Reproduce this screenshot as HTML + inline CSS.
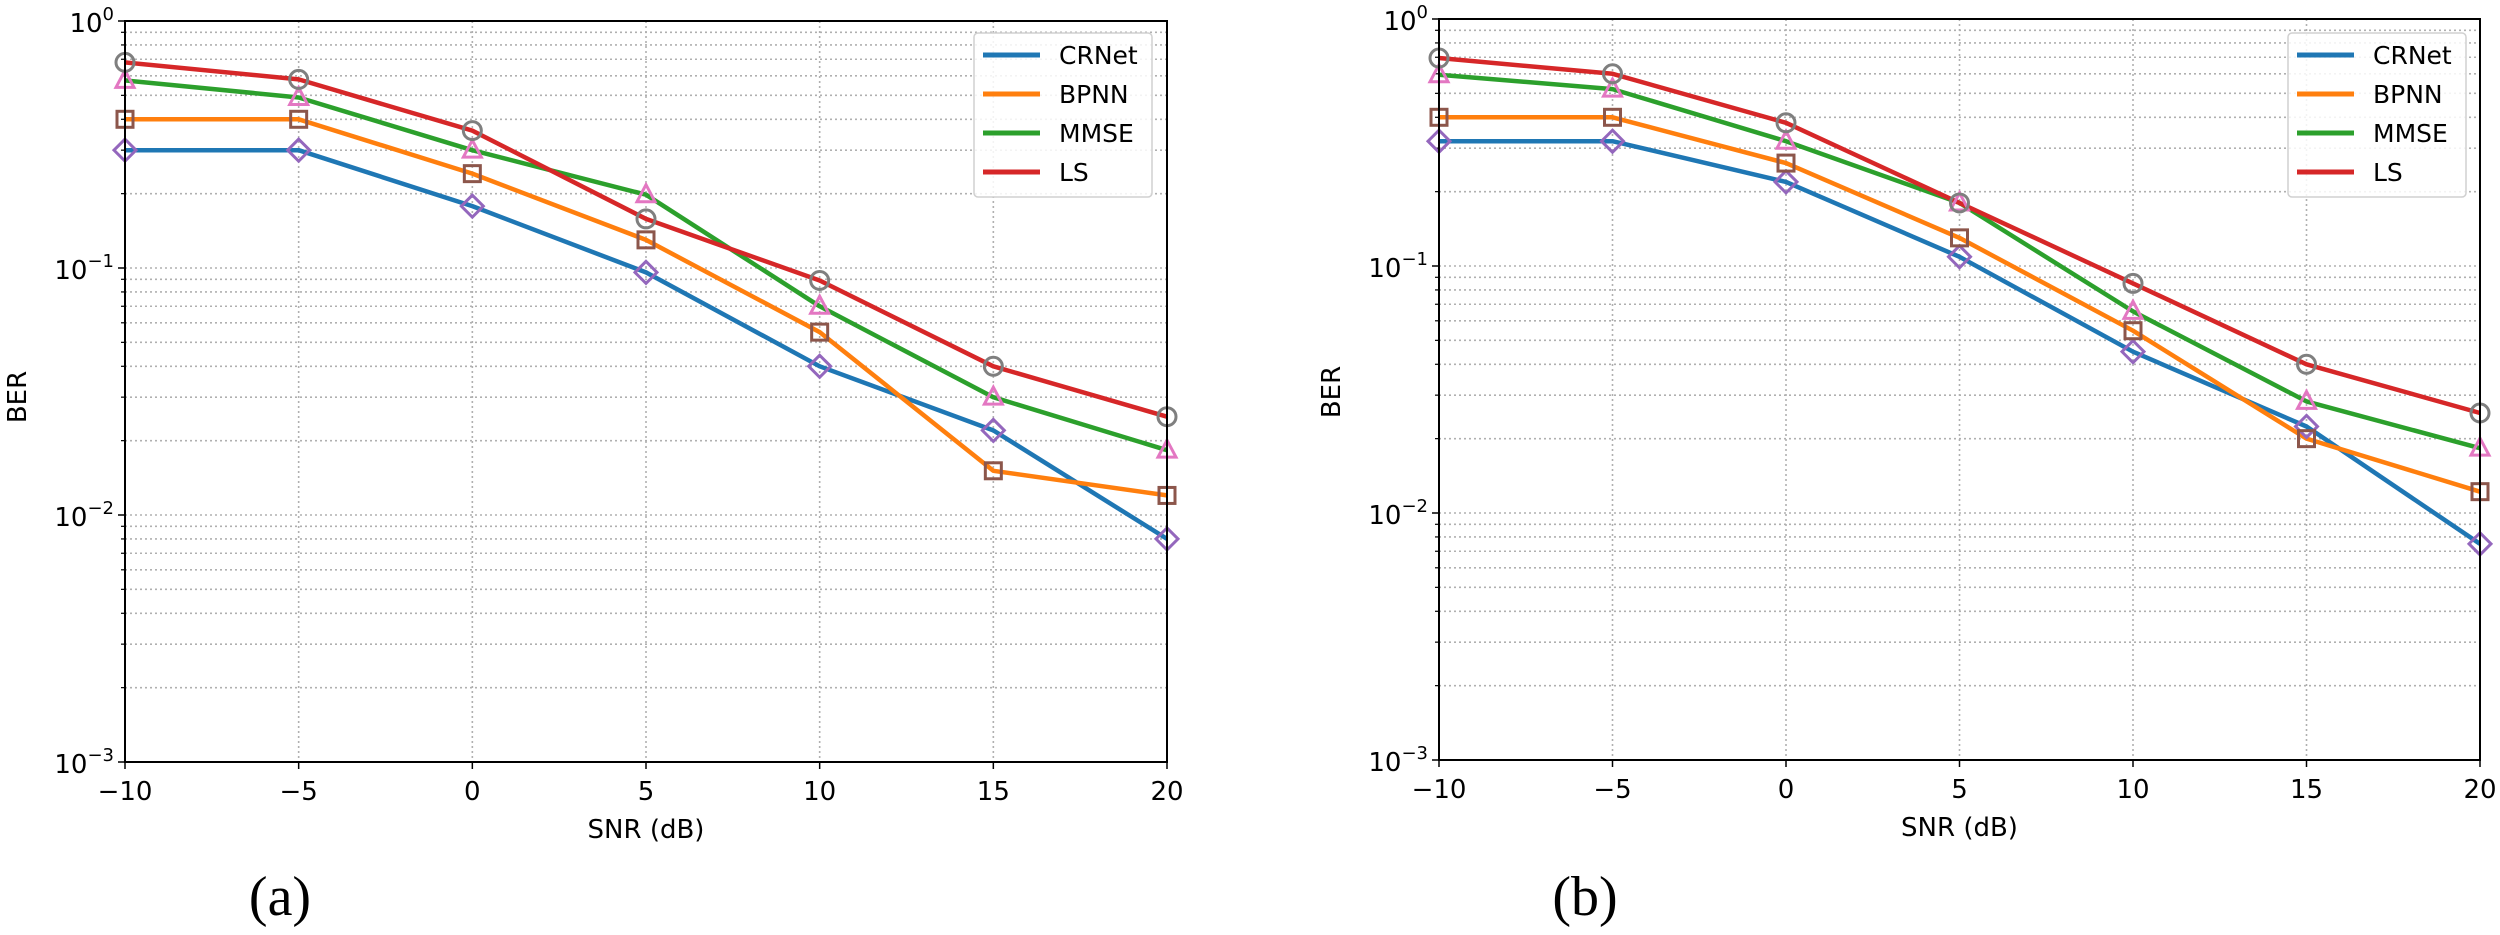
<!DOCTYPE html>
<html><head><meta charset="utf-8">
<style>
html,body{margin:0;padding:0;background:#fff;}
svg{display:block;}
text{font-family:"DejaVu Sans","Liberation Sans",sans-serif;}
</style></head>
<body>
<svg id="fig" width="2500" height="935" viewBox="0 0 2500 935" xmlns="http://www.w3.org/2000/svg"></svg>
<script>
const snrValues = [-10, -5, 0, 5, 10, 15, 20];
const xTickLabels = ["\u221210", "\u22125", "0", "5", "10", "15", "20"];
const seriesNames = ["CRNet", "BPNN", "MMSE", "LS"];
const crnetA = [0.30, 0.30, 0.178, 0.096, 0.040, 0.022, 0.008];
const bpnnA  = [0.40, 0.40, 0.241, 0.130, 0.055, 0.0151, 0.012];
const mmseA  = [0.575, 0.49, 0.30, 0.198, 0.070, 0.030, 0.0183];
const lsA    = [0.68, 0.58, 0.36, 0.158, 0.089, 0.040, 0.025];
const crnetB = [0.32, 0.32, 0.219, 0.109, 0.045, 0.0224, 0.0075];
const bpnnB  = [0.40, 0.40, 0.261, 0.130, 0.0547, 0.020, 0.0122];
const mmseB  = [0.595, 0.52, 0.32, 0.18, 0.0655, 0.0283, 0.0183];
const lsB    = [0.695, 0.60, 0.38, 0.18, 0.085, 0.040, 0.0254];
const yDecades = [0, -1, -2, -3];
const yTickExps = ["0", "\u22121", "\u22122", "\u22123"];

const NS = "http://www.w3.org/2000/svg";
const svg = document.getElementById("fig");
const lineColors = ["#1f77b4", "#ff7f0e", "#2ca02c", "#d62728"];
const markerColors = ["#9467bd", "#8c564b", "#e377c2", "#7f7f7f"];
const markerShapes = ["diamond", "square", "triangle", "circle"];

function mk(tag, attrs, parent) {
  const e = document.createElementNS(NS, tag);
  for (const k in attrs) e.setAttribute(k, attrs[k]);
  (parent || svg).appendChild(e);
  return e;
}

function drawPanel(cfg) {
  const g = mk("g", {});
  
  
  const L = cfg.left, R = cfg.right, T = cfg.top, B = cfg.bottom;
  const xS = v => L + (v - snrValues[0]) / (snrValues[snrValues.length - 1] - snrValues[0]) * (R - L);
  const yS = v => T + (0 - Math.log10(v)) / 3 * (B - T);

  const grid = mk("g", {}, g);
  
  
  for (let d = 0; d < 3; d++) {
    for (let m = 2; m <= 9; m++) {
      const y = yS(m * Math.pow(10, -d - 1));
      mk("line", {x1: L, x2: R, y1: y, y2: y, stroke: "#b0b0b0", "stroke-width": 1.6, "stroke-dasharray": "2,3"}, grid);
      mk("line", {x1: L - 4, x2: L, y1: y, y2: y, stroke: "#000", "stroke-width": 1.2}, grid);
    }
  }
  yDecades.forEach(dv => {
    const y = yS(Math.pow(10, dv));
    mk("line", {x1: L, x2: R, y1: y, y2: y, stroke: "#b0b0b0", "stroke-width": 1.6, "stroke-dasharray": "2,3"}, grid);
  });
  snrValues.forEach(v => {
    const x = xS(v);
    mk("line", {x1: x, x2: x, y1: T, y2: B, stroke: "#b0b0b0", "stroke-width": 1.6, "stroke-dasharray": "2,3"}, grid);
  });

  const data = cfg.series;
  data.forEach((vals, si) => {
    const pts = vals.map((v, i) => xS(snrValues[i]).toFixed(1) + "," + yS(v).toFixed(1)).join(" ");
    const pl = mk("polyline", {points: pts, fill: "none", stroke: lineColors[si], "stroke-width": 4.5, "stroke-linejoin": "round"}, g);
    
    
  });
  data.forEach((vals, si) => {
    vals.forEach((v, i) => {
      const x = xS(snrValues[i]), y = yS(v);
      const c = markerColors[si];
      let e;
      const st = {fill: "none", stroke: c, "stroke-width": 3};
      if (markerShapes[si] === "diamond") e = mk("polygon", Object.assign({points: `${x},${y-11} ${x+11},${y} ${x},${y+11} ${x-11},${y}`}, st), g);
      else if (markerShapes[si] === "square") e = mk("rect", Object.assign({x: x-8, y: y-8, width: 16, height: 16}, st), g);
      else if (markerShapes[si] === "triangle") e = mk("polygon", Object.assign({points: `${x},${y-10} ${x+9},${y+7} ${x-9},${y+7}`}, st), g);
      else e = mk("circle", Object.assign({cx: x, cy: y, r: 9}, st), g);
      
      
    });
  });

  const sp = mk("rect", {x: L, y: T, width: R - L, height: B - T, fill: "none", stroke: "#000", "stroke-width": 2}, g);
  
  

  snrValues.forEach((v, i) => {
    const x = xS(v);
    mk("line", {x1: x, x2: x, y1: B, y2: B + 7, stroke: "#000", "stroke-width": 1.5}, g);
    const t = mk("text", {x: x, y: B + 38, "font-size": 26, "text-anchor": "middle", fill: "#000"}, g);
    t.textContent = xTickLabels[i];
    
    
  });
  yDecades.forEach((dv, i) => {
    const y = yS(Math.pow(10, dv));
    mk("line", {x1: L - 7, x2: L, y1: y, y2: y, stroke: "#000", "stroke-width": 1.5}, g);
    const t = mk("text", {x: L - 11, y: y + 11, "font-size": 26, "text-anchor": "end", fill: "#000"}, g);
    
    
    const s1 = mk("tspan", {}, t); s1.textContent = "10";
    const s2 = mk("tspan", {dy: -12, "font-size": 18}, t); s2.textContent = yTickExps[i];
  });

  const xt = mk("text", {x: (L + R) / 2, y: B + 76, "font-size": 26, "text-anchor": "middle", fill: "#000"}, g);
  xt.textContent = "SNR (dB)";
  
  
  const yt = mk("text", {x: 0, y: 0, "font-size": 26, "text-anchor": "middle", fill: "#000", transform: `translate(${cfg.yTitleX},${cfg.yTitleY}) rotate(-90)`}, g);
  yt.textContent = "BER";
  
  

  const lg = mk("g", {}, g);
  
  
  mk("rect", {x: cfg.legX, y: 33, width: 178, height: 164, rx: 4, fill: "rgba(255,255,255,0.85)", stroke: "#d0d0d0", "stroke-width": 1.5}, lg);
  seriesNames.forEach((n, i) => {
    const y = 55 + i * 39;
    const en = mk("g", {}, lg);
    
    
    mk("line", {x1: cfg.legX + 9, x2: cfg.legX + 66, y1: y, y2: y, stroke: lineColors[i], "stroke-width": 5}, en);
    const t = mk("text", {x: cfg.legX + 85, y: y + 9, "font-size": 25, fill: "#000"}, en);
    t.textContent = n;
  });

  const pl = mk("text", {x: cfg.labelX, y: 915, "font-size": 56, "text-anchor": "middle", fill: "#000", style: "font-family:'Liberation Serif',serif"}, g);
  pl.textContent = cfg.label;
  
  
}

drawPanel({name: "panel-a", left: 125, right: 1167, top: 21, bottom: 762,
  series: [crnetA, bpnnA, mmseA, lsA], legX: 974, yTitleX: 26, yTitleY: 397, labelX: 280, label: "(a)"});
drawPanel({name: "panel-b", left: 1439, right: 2480, top: 19, bottom: 760,
  series: [crnetB, bpnnB, mmseB, lsB], legX: 2288, yTitleX: 1340, yTitleY: 392, labelX: 1585, label: "(b)"});
</script>
</body></html>
